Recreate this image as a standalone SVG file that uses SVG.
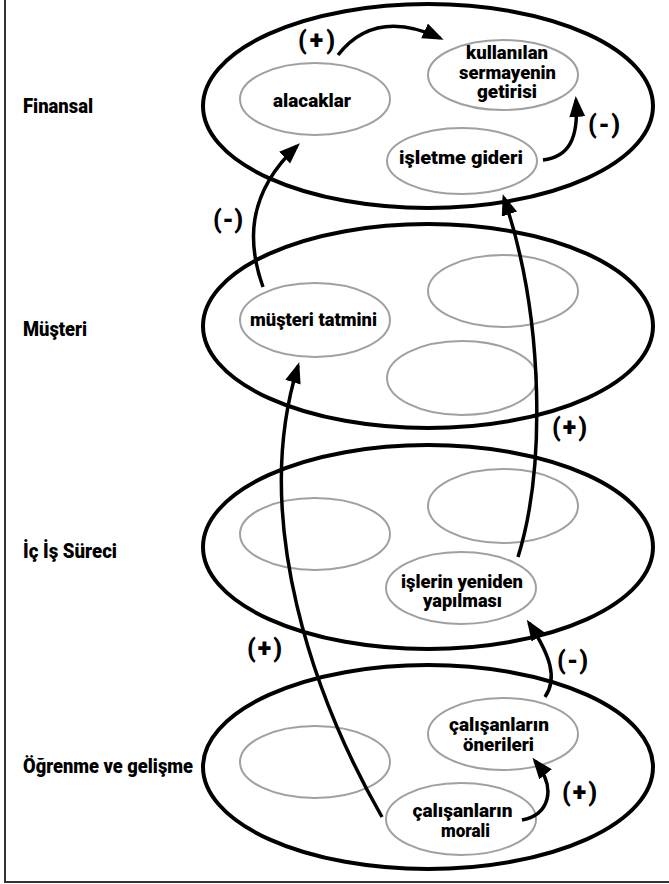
<svg xmlns="http://www.w3.org/2000/svg" width="669" height="884" viewBox="0 0 669 884">
<style>
.lvl{fill:none;stroke:#000;stroke-width:4}
.nd{fill:none;stroke:#a0a0a0;stroke-width:2}
.t{font-family:Roboto,"Liberation Sans",Arial,sans-serif;font-weight:900;font-size:19px;fill:#000;text-anchor:middle}
.lab{font-family:Roboto,"Liberation Sans",Arial,sans-serif;font-weight:900;font-size:20px;fill:#000}
.sg{font-family:Roboto,"Liberation Sans",Arial,sans-serif;font-weight:900;font-size:25px;fill:#000}
.c{fill:none;stroke:#000;stroke-width:3.5}
</style>
<defs>
<marker id="ah" markerUnits="userSpaceOnUse" markerWidth="24" markerHeight="20" refX="17" refY="8" orient="auto" viewBox="0 0 24 20">
<path d="M0,0 L21,8 L0,16 Z" fill="#000"/>
</marker>
</defs>
<rect x="0" y="0" width="669" height="884" fill="#fff"/>
<path d="M5,0 V882 H669" fill="none" stroke="#333" stroke-width="2"/>

<g id="levels">
<ellipse id="lvl-finansal" class="lvl" cx="428" cy="106" rx="225" ry="102"/>
<ellipse id="lvl-musteri" class="lvl" cx="428" cy="326" rx="225" ry="102"/>
<ellipse id="lvl-icis" class="lvl" cx="428" cy="547" rx="225" ry="102"/>
<ellipse id="lvl-ogrenme" class="lvl" cx="428" cy="767" rx="225" ry="102"/>
</g>

<g id="level-labels">
<text class="lab" x="23" y="113" textLength="70" lengthAdjust="spacingAndGlyphs">Finansal</text>
<text class="lab" x="23" y="336" textLength="64" lengthAdjust="spacingAndGlyphs">Müşteri</text>
<text class="lab" x="23" y="558" textLength="94" lengthAdjust="spacingAndGlyphs">İç İş Süreci</text>
<text class="lab" x="23" y="773" textLength="170" lengthAdjust="spacingAndGlyphs">Öğrenme ve gelişme</text>
</g>

<g id="n-alacaklar"><ellipse class="nd" cx="315" cy="99" rx="75" ry="36"/>
<text class="t" x="312" y="107" textLength="78" lengthAdjust="spacingAndGlyphs">alacaklar</text></g>
<g id="n-kullanilan"><ellipse class="nd" cx="503" cy="75" rx="75" ry="35"/>
<text class="t" x="507" y="59" textLength="82" lengthAdjust="spacingAndGlyphs">kullanılan</text>
<text class="t" x="507.5" y="78.5" textLength="97" lengthAdjust="spacingAndGlyphs">sermayenin</text>
<text class="t" x="507" y="98" textLength="60" lengthAdjust="spacingAndGlyphs">getirisi</text></g>
<g id="n-isletme"><ellipse class="nd" cx="462" cy="161" rx="75" ry="33"/>
<text class="t" x="461" y="164" textLength="124" lengthAdjust="spacingAndGlyphs">işletme gideri</text></g>

<g id="n-musteri-tatmini"><ellipse class="nd" cx="315" cy="320" rx="75" ry="37"/>
<text class="t" x="313.5" y="326" textLength="127" lengthAdjust="spacingAndGlyphs">müşteri tatmini</text></g>
<g id="n-m-empty1"><ellipse class="nd" cx="503" cy="291" rx="75" ry="36"/></g>
<g id="n-m-empty2"><ellipse class="nd" cx="462" cy="378" rx="75" ry="37"/></g>

<g id="n-i-empty1"><ellipse class="nd" cx="315" cy="534" rx="75" ry="36"/></g>
<g id="n-i-empty2"><ellipse class="nd" cx="503" cy="506" rx="75" ry="37"/></g>
<g id="n-islerin"><ellipse class="nd" cx="461" cy="588" rx="75" ry="36"/>
<text class="t" x="462" y="588" textLength="122" lengthAdjust="spacingAndGlyphs">işlerin yeniden</text>
<text class="t" x="462.5" y="607" textLength="79" lengthAdjust="spacingAndGlyphs">yapılması</text></g>

<g id="n-o-empty"><ellipse class="nd" cx="315" cy="762" rx="75" ry="36"/></g>
<g id="n-oneriler"><ellipse class="nd" cx="503" cy="734" rx="75" ry="36"/>
<text class="t" x="499" y="731" textLength="100" lengthAdjust="spacingAndGlyphs">çalışanların</text>
<text class="t" x="498.5" y="751" textLength="71" lengthAdjust="spacingAndGlyphs">önerileri</text></g>
<g id="n-moral"><ellipse class="nd" cx="461" cy="819" rx="75" ry="36"/>
<text class="t" x="462.5" y="817" textLength="100" lengthAdjust="spacingAndGlyphs">çalışanların</text>
<text class="t" x="465.5" y="837" textLength="49" lengthAdjust="spacingAndGlyphs">morali</text></g>

<g id="connectors">
<path class="c" marker-end="url(#ah)" d="M338,55 Q375,8 440,38"/>
<path class="c" marker-end="url(#ah)" d="M543,160 C568,157 579,140 576,100"/>
<path class="c" marker-end="url(#ah)" d="M263,287 C248,245 245,195 297,146"/>
<path class="c" marker-end="url(#ah)" d="M518,557 C545,470 545,320 504,198"/>
<path class="c" marker-end="url(#ah)" d="M382,817 C315,700 250,520 298,366"/>
<path class="c" marker-end="url(#ah)" d="M545,697 C558,678 550,655 529,623"/>
<path class="c" marker-end="url(#ah)" d="M522,820 C548,815 558,790 535,761"/>
<text class="sg" x="298" y="49" textLength="37">(+)</text>
<text class="sg" x="588" y="133" textLength="32">(-)</text>
<text class="sg" x="213" y="228" textLength="30">(-)</text>
<text class="sg" x="552" y="436" textLength="35">(+)</text>
<text class="sg" x="247" y="657" textLength="35">(+)</text>
<text class="sg" x="557" y="669" textLength="31">(-)</text>
<text class="sg" x="562" y="801" textLength="35">(+)</text>
</g>
</svg>
